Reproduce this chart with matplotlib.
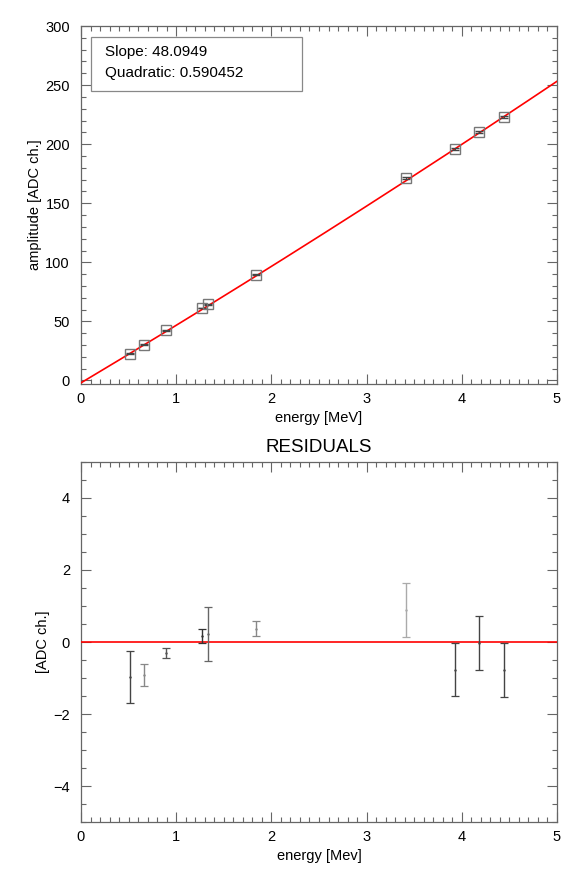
import numpy as np
import matplotlib
matplotlib.use("Agg")
import matplotlib.pyplot as plt
from matplotlib.ticker import MultipleLocator
from matplotlib.patches import Rectangle

plt.rcParams["font.family"] = ["Liberation Sans", "DejaVu Sans"]

# calibration points
energy = [0.511, 0.662, 0.898, 1.275, 1.333, 1.836, 3.416, 3.927, 4.180, 4.438]
amplitude = [22.8, 30.2, 42.4, 61.5, 64.4, 89.7, 171.1, 196.2, 210.3, 223.3]
residual = [-0.97, -0.92, -0.31, 0.17, 0.22, 0.37, 0.90, -0.77, -0.03, -0.78]
res_err = [0.72, 0.31, 0.14, 0.19, 0.75, 0.20, 0.75, 0.74, 0.75, 0.76]

# fit parameters
offset = -2.0
slope = 48.0949
quad = 0.590452

bar_colors = ["#444444", "#888888", "#555555", "#333333", "#666666",
              "#888888", "#aaaaaa", "#444444", "#444444", "#444444"]

fig = plt.figure(figsize=(5.81, 8.73), dpi=100)
ax1 = fig.add_axes([0.1394, 0.5601, 0.8193, 0.4101])
ax2 = fig.add_axes([0.1394, 0.0584, 0.8193, 0.4124])


def style(ax):
    ax.xaxis.set_major_locator(MultipleLocator(1))
    ax.xaxis.set_minor_locator(MultipleLocator(0.1))
    ax.tick_params(which="both", direction="in", top=True, right=True,
                   color="#666666", labelsize=10.5, width=0.8)
    ax.tick_params(which="major", length=7)
    ax.tick_params(which="minor", length=3.5)
    ax.tick_params(axis="x", which="major", pad=6)
    ax.tick_params(axis="y", which="major", pad=8)
    for s in ax.spines.values():
        s.set_color("#666666")
        s.set_linewidth(0.9)


# top panel: amplitude vs energy
xs = np.linspace(0, 5, 200)
ax1.plot(xs, offset + slope * xs + quad * xs ** 2, color="red", lw=1.2, zorder=3)
ax1.errorbar(energy, amplitude, yerr=res_err, fmt="s", ms=7, mfc="none",
             mec="#777777", mew=1.0, ecolor="#444444", elinewidth=0.8,
             capsize=3, capthick=0.8, zorder=4)
ax1.set_xlim(0, 5)
ax1.set_ylim(-3, 300)
ax1.yaxis.set_major_locator(MultipleLocator(50))
ax1.yaxis.set_minor_locator(MultipleLocator(10))
style(ax1)
ax1.set_xlabel("energy [MeV]", fontsize=10.5, labelpad=3)
ax1.set_ylabel("amplitude [ADC ch.]", fontsize=10.5, labelpad=2)

# fit result box
ax1.add_patch(Rectangle((0.021, 0.818), 0.443, 0.151, transform=ax1.transAxes,
                        fc="white", ec="#888888", lw=0.9, zorder=5))
ax1.text(0.05, 0.927, f"Slope: {slope}", transform=ax1.transAxes,
         fontsize=11, va="center", ha="left", zorder=6)
ax1.text(0.05, 0.869, f"Quadratic: {quad}", transform=ax1.transAxes,
         fontsize=11, va="center", ha="left", zorder=6)

# bottom panel: residuals
ax2.axhline(0, color="red", lw=1.2, zorder=3)
for e, r, er, c in zip(energy, residual, res_err, bar_colors):
    ax2.errorbar([e], [r], yerr=[er], fmt=".", ms=1.5, color=c, ecolor=c,
                 elinewidth=1.0, capsize=3, capthick=0.9, zorder=4)
ax2.set_xlim(0, 5)
ax2.set_ylim(-5, 5)
ax2.yaxis.set_major_locator(MultipleLocator(2))
ax2.yaxis.set_minor_locator(MultipleLocator(0.5))
style(ax2)
ax2.set_xlabel("energy [Mev]", fontsize=10.5, labelpad=3)
ax2.set_ylabel("[ADC ch.]", fontsize=10.5, labelpad=2)
ax2.set_title("RESIDUALS", fontsize=13.5, pad=7)

fig.savefig("out.png", dpi=100)
